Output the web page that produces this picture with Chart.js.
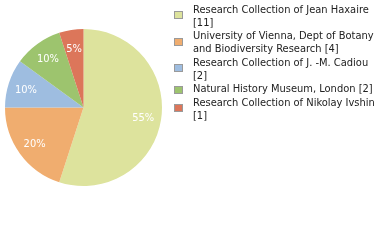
<!DOCTYPE html>
<html>
<head>
<meta charset="utf-8">
<script src="https://cdn.jsdelivr.net/npm/chart.js@4"></script>
<style>
  html, body { margin: 0; padding: 0; background: #fff; }
  #wrap { width: 380px; height: 240px; position: relative; }
</style>
</head>
<body>
<div id="wrap"><canvas id="chart" width="380" height="240"></canvas></div>
<script>
// ── Data ──────────────────────────────────────────────────────────────
const LABELS = [
    ['Research Collection of Jean Haxaire', '[11]'],
    ['University of Vienna, Dept of Botany', 'and Biodiversity Research [4]'],
    ['Research Collection of J. -M. Cadiou', '[2]'],
    ['Natural History Museum, London [2]'],
    ['Research Collection of Nikolay Ivshin', '[1]']
];
const COUNTS = [11, 4, 2, 2, 1];
const COLORS = ['#dde39d', '#f0ad6f', '#9ebde0', '#9dc46e', '#dc765a'];

const FONT = '11px "DejaVu Sans Condensed", "DejaVu Sans", sans-serif';

// Percent labels inside slices
const pctPlugin = {
    id: 'pctLabels',
    afterDatasetsDraw(chart) {
        const { ctx } = chart;
        const meta = chart.getDatasetMeta(0);
        const total = COUNTS.reduce((a, b) => a + b, 0);
        ctx.save();
        ctx.font = FONT;
        ctx.fillStyle = '#ffffff';
        ctx.textAlign = 'center';
        ctx.textBaseline = 'middle';
        meta.data.forEach((arc, i) => {
            const p = arc.getProps(['x', 'y', 'startAngle', 'endAngle', 'outerRadius'], true);
            const mid = (p.startAngle + p.endAngle) / 2;
            const r = p.outerRadius * 0.77;
            const pct = Math.round(COUNTS[i] / total * 100) + '%';
            ctx.fillText(pct, p.x + Math.cos(mid) * r, p.y + Math.sin(mid) * r + 1);
        });
        ctx.restore();
    }
};

// Legend on the right, with wrapped labels
const legendPlugin = {
    id: 'sideLegend',
    afterDraw(chart) {
        const { ctx } = chart;
        ctx.save();
        ctx.font = FONT;
        ctx.textBaseline = 'middle';
        ctx.textAlign = 'left';
        const lineH = 13;
        let y = 10;
        LABELS.forEach((lines, i) => {
            const h = (lines.length - 1) * lineH;
            const sq = y + h / 2 - (lines.length > 1 ? 1.5 : -0.5);
            ctx.fillStyle = COLORS[i];
            ctx.fillRect(174.5, Math.round(sq - 4) + 0.5, 8, 7);
            ctx.strokeStyle = '#9a9a9a';
            ctx.lineWidth = 1;
            ctx.strokeRect(174.5, Math.round(sq - 4) + 0.5, 8, 7);
            ctx.fillStyle = '#222222';
            lines.forEach((t, j) => {
                ctx.fillText(t, 193, y + j * lineH);
            });
            y += lines.length * lineH + 0.5;
        });
        ctx.restore();
    }
};

new Chart(document.getElementById('chart'), {
    type: 'pie',
    plugins: [pctPlugin, legendPlugin],
    data: {
        labels: LABELS.map(l => l.join(' ')),
        datasets: [{
            data: COUNTS,
            backgroundColor: COLORS,
            borderWidth: 0
        }]
    },
    options: {
        responsive: false,
        animation: false,
        layout: { padding: { left: 5, top: 29, right: 218, bottom: 54 } },
        plugins: {
            legend: { display: false },
            tooltip: { enabled: false }
        }
    }
});
</script>
</body>
</html>
